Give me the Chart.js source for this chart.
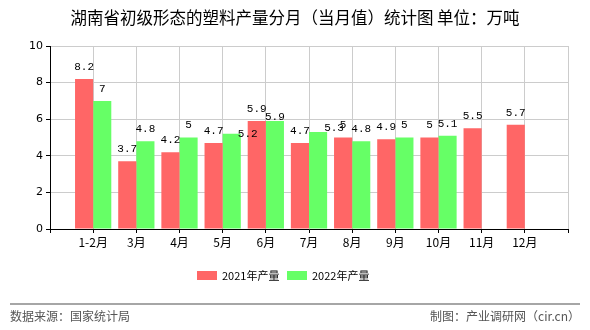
<!DOCTYPE html>
<html>
<head>
<meta charset="utf-8">
<script src="https://cdn.jsdelivr.net/npm/chart.js@4"></script>
<style>
  html, body { margin: 0; padding: 0; background: #fff; }
  #wrap { width: 590px; height: 330px; position: relative; }
</style>
</head>
<body>
<div id="wrap"><canvas id="chart" width="590" height="330"></canvas></div>
<script>
const months = ["1-2月", "3月", "4月", "5月", "6月", "7月", "8月", "9月", "10月", "11月", "12月"];
const output2021 = [8.2, 3.7, 4.2, 4.7, 5.9, 4.7, 5, 4.9, 5, 5.5, 5.7];
const output2022 = [7, 4.8, 5, 5.2, 5.9, 5.3, 4.8, 5, 5.1, null, null];
const yTicks = [0, 2, 4, 6, 8, 10];

const titleText = "湖南省初级形态的塑料产量分月（当月值）统计图 单位：万吨";
const sourceText = "数据来源：国家统计局";
const makerText = "制图：产业调研网（cir.cn）";

const cjk = '"Noto Sans CJK SC", "Noto Sans", sans-serif';

// empty slot at each end, like the original axis
const labels = [""].concat(months, [""]);
const pad = (arr) => [null].concat(arr, [null]);

// a few labels were pushed aside in the original to avoid overlaps
// key: dataset index - month index
const labelNudge = { "1-3": [16, 12], "1-4": [0, 8], "1-5": [16, 8] };

const extras = {
  id: "extras",
  afterDatasetsDraw(chart) {
    const ctx = chart.ctx;
    ctx.save();
    ctx.font = '11px "Liberation Mono", "DejaVu Sans Mono", monospace';
    ctx.fillStyle = "#000";
    ctx.textAlign = "center";
    ctx.textBaseline = "middle";
    chart.data.datasets.forEach((ds, di) => {
      const meta = chart.getDatasetMeta(di);
      meta.data.forEach((bar, i) => {
        const v = ds.data[i];
        if (v === null || v === undefined) return;
        const n = labelNudge[di + "-" + (i - 1)] || [0, 0];
        ctx.fillText(String(v), bar.x + n[0], bar.y - 12 + n[1]);
      });
    });
    ctx.restore();
  },
  afterDraw(chart) {
    const ctx = chart.ctx;
    ctx.save();
    // title
    ctx.fillStyle = "#000";
    ctx.font = "16.5px " + cjk;
    ctx.textAlign = "center";
    ctx.textBaseline = "middle";
    ctx.fillText(titleText, 295, 18);

    // legend
    ctx.font = "11px " + cjk;
    ctx.textAlign = "left";
    const lx = [197, 287];
    chart.data.datasets.forEach((ds, di) => {
      ctx.fillStyle = ds.backgroundColor;
      ctx.fillRect(lx[di], 271, 20, 9);
      ctx.fillStyle = "#000";
      ctx.fillText(ds.label, lx[di] + 25, 276);
    });

    // footer
    ctx.strokeStyle = "#888";
    ctx.lineWidth = 1.5;
    ctx.beginPath();
    ctx.moveTo(10, 304);
    ctx.lineTo(580, 304);
    ctx.stroke();
    ctx.fillStyle = "#555";
    ctx.font = "12px " + cjk;
    ctx.fillText(sourceText, 10, 316);
    ctx.textAlign = "right";
    ctx.fillText(makerText, 580, 316);
    ctx.restore();
  }
};

new Chart(document.getElementById("chart"), {
  type: "bar",
  data: {
    labels: labels,
    datasets: [
      { label: "2021年产量", data: pad(output2021), backgroundColor: "#ff6666" },
      { label: "2022年产量", data: pad(output2022), backgroundColor: "#66ff66" }
    ]
  },
  options: {
    responsive: false,
    animation: false,
    events: [],
    layout: { padding: { left: 0, right: 22, top: 46, bottom: 76 } },
    datasets: { bar: { categoryPercentage: 0.84, barPercentage: 1.0 } },
    plugins: { legend: { display: false }, title: { display: false }, tooltip: { enabled: false } },
    scales: {
      x: {
        offset: false,
        grid: { offset: false, color: "#cccccc", tickColor: "#000", tickLength: 4 },
        border: { color: "#000", width: 1 },
        ticks: { color: "#000", font: { size: 12, family: cjk }, padding: 2, autoSkip: false, maxRotation: 0 },
        afterFit(scale) { scale.height = 25; }
      },
      y: {
        min: 0,
        max: 10,
        afterBuildTicks(scale) { scale.ticks = yTicks.map((v) => ({ value: v })); },
        grid: { color: "#cccccc", tickColor: "#000", tickLength: 4 },
        border: { color: "#000", width: 1 },
        ticks: { color: "#000", font: { size: 11, family: '"DejaVu Sans", sans-serif' }, padding: 3 },
        afterFit(scale) { scale.width = 50; }
      }
    }
  },
  plugins: [extras]
});
</script>
</body>
</html>
